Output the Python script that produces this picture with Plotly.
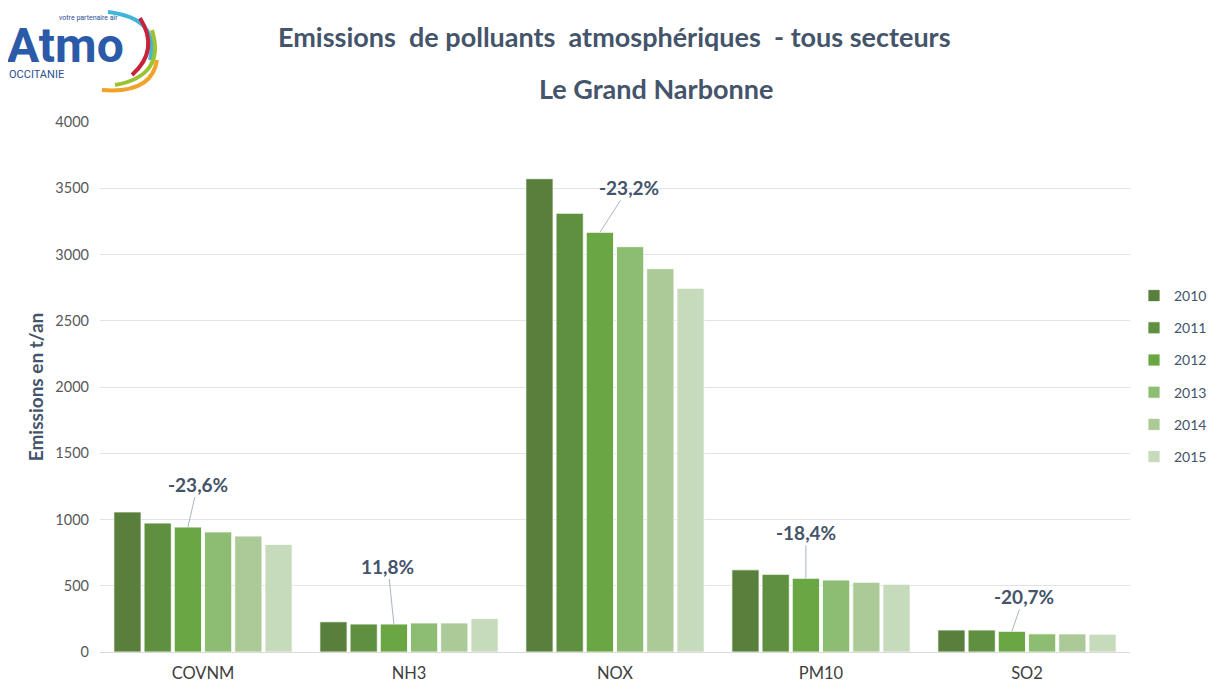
import plotly.graph_objects as go

categories = ["COVNM", "NH3", "NOX", "PM10", "SO2"]
years = ["2010", "2011", "2012", "2013", "2014", "2015"]
values = {
    "2010": [1057, 228, 3572, 620, 166],
    "2011": [973, 211, 3311, 586, 166],
    "2012": [943, 211, 3167, 556, 156],
    "2013": [906, 219, 3059, 543, 137],
    "2014": [875, 219, 2893, 526, 136],
    "2015": [812, 252, 2745, 511, 134],
}
variation_labels = ["-23,6%", "11,8%", "-23,2%", "-18,4%", "-20,7%"]
colors = ["#587f3b", "#5e9040", "#6ba645", "#8dbd72", "#abca98", "#c6dbbb"]

TXT = "#44546a"
FONT = "Lato"

fig = go.Figure()
for yr, col in zip(years, colors):
    fig.add_trace(go.Bar(
        name=yr, x=categories, y=values[yr],
        marker=dict(color=col, line=dict(color="rgba(255,255,255,0.8)", width=1)),
        legendgroup=yr,
    ))

OFF = 8  # page body margin
W, H = 1217 - 2 * OFF, 690 - 2 * OFF
# plot area in page pixels: x 100..1130, y 122..652
L, T = 100 - OFF, 122 - OFF
R, B = W - (1130 - OFF), H - (652 - OFF)
pw, ph = W - L - R, H - T - B


def px2paper(x, y):
    # x, y in page pixels
    return (x - OFF - L) / pw, (H - B - (y - OFF)) / ph


# variation annotations, pointing at the 2012 bar
bargap = 0.12
slot = (1 - bargap) / 6
off2012 = -(1 - bargap) / 2 + 2.5 * slot
arrow_offsets = [(10, -43), (-6, -58), (29, -45), (0, -46), (12, -35)]
annotations = []
for i, (lab, (ax, ay)) in enumerate(zip(variation_labels, arrow_offsets)):
    annotations.append(dict(
        x=i + off2012, y=values["2012"][i], xref="x", yref="y",
        text="<b>%s</b>" % lab, showarrow=True, arrowhead=0, arrowwidth=1,
        arrowcolor="#aab4c3", ax=ax, ay=ay,
        font=dict(family=FONT, size=19, color=TXT),
    ))

# titles
for txt, cx, cy, sz in [
    ("Emissions  de polluants  atmosphériques  - tous secteurs", 614, 37, 27),
    ("Le Grand Narbonne", 656, 88, 27),
]:
    xp, yp = px2paper(cx, cy)
    annotations.append(dict(x=xp, y=yp, xref="paper", yref="paper", showarrow=False,
                            text="<b>%s</b>" % txt, xanchor="center", yanchor="middle",
                            font=dict(family=FONT, size=sz, color=TXT)))

# logo texts
for txt, cx, cy, sz, col, bold, hgt in [
    ("Atmo", 6, 45, 48, "#2b5aa8", True, 40),
    ("OCCITANIE", 8, 75, 11, "#2b4f92", False, None),
    ("votre partenaire air", 58, 18, 7, "#2b4f92", False, None),
]:
    xp, yp = px2paper(cx, cy)
    ann = dict(x=xp, y=yp, xref="paper", yref="paper", showarrow=False,
               text=("<b>%s</b>" % txt) if bold else txt,
               xanchor="left", yanchor="middle", borderpad=0,
               font=dict(family="Roboto", size=sz, color=col))
    if hgt:
        ann["height"] = hgt
    annotations.append(ann)

shapes = []
arcs = [
    ((108, 12), (160, 18), (150, 60), "#3fb6d8"),
    ((140, 18), (160, 50), (132, 75), "#c8213a"),
    ((152, 30), (166, 76), (115, 85), "#9cc232"),
    ((157, 60), (152, 94), (102, 90), "#f0a22a"),
]
for p0, p1, p2, col in arcs:
    a = px2paper(*p0); b = px2paper(*p1); c = px2paper(*p2)
    shapes.append(dict(type="path", xref="paper", yref="paper",
                       path="M %f,%f Q %f,%f %f,%f" % (a[0], a[1], b[0], b[1], c[0], c[1]),
                       line=dict(color=col, width=4)))

lx, ly = px2paper(1134, 280)
fig.update_layout(
    width=W, height=H,
    margin=dict(l=L, r=R, t=T, b=B, autoexpand=False),
    paper_bgcolor="white", plot_bgcolor="white",
    barmode="group", bargap=bargap, bargroupgap=0.1,
    font=dict(family=FONT, color="#595959"),
    showlegend=True,
    legend=dict(x=lx, y=ly, xanchor="left", yanchor="top",
                font=dict(family=FONT, size=14, color=TXT),
                tracegroupgap=11, traceorder="grouped",
                itemwidth=30),
    annotations=annotations,
    shapes=shapes,
    xaxis=dict(showgrid=False, showline=True, linecolor="#d9d9d9", automargin=False,
               tickfont=dict(family=FONT, size=16.5, color="#404040"),
               ticks="", ticklabelstandoff=6),
    yaxis=dict(range=[0, 4000], dtick=500, showgrid=True, gridcolor="#dfe4ea",
               automargin=False,
               zeroline=False, tickfont=dict(family=FONT, size=14.5, color="#595959"),
               ticklabelstandoff=10,
               title=dict(text="<b>Emissions en t/an</b>", standoff=6,
                          font=dict(family=FONT, size=19, color=TXT))),
)

fig.write_html("out.html")
